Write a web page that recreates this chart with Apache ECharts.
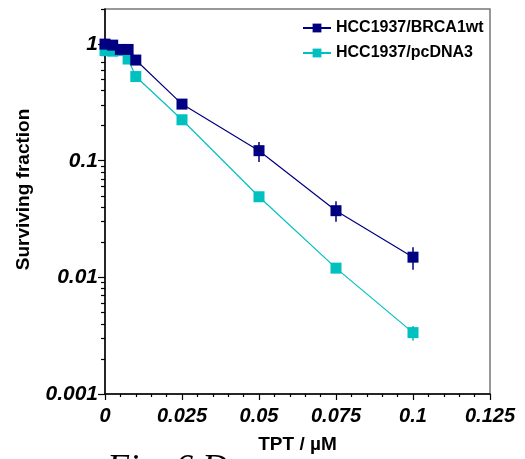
<!DOCTYPE html>
<html>
<head>
<meta charset="utf-8">
<script src="https://cdn.jsdelivr.net/npm/echarts@6/dist/echarts.min.js"></script>
<style>html,body{margin:0;padding:0;background:#fff}#c{width:525px;height:459px}</style>
</head>
<body>
<div id="c"></div>
<script>
// Dose (TPT, µM)
var doses = [0, 0.0025, 0.005, 0.0075, 0.01, 0.025, 0.05, 0.075, 0.1];
// Surviving fraction
var brca1wt = [1.0, 0.98, 0.90, 0.90, 0.73, 0.306, 0.122, 0.0373, 0.0149];
var pcdna3 = [0.88, 0.87, 0.88, 0.745, 0.527, 0.2245, 0.0491, 0.0120, 0.00336];
// Error bars [dose, low, high]
var brca1wtErr = [[0.05, 0.0975, 0.1445], [0.075, 0.030, 0.0449], [0.1, 0.01164, 0.0181]];
var pcdna3Err = [[0.1, 0.00286, 0.00383]];
// Axis ticks
var yMajorTicks = [0.001, 0.01, 0.1, 1];
var yMinorTicks = [0.002, 0.003, 0.004, 0.005, 0.006, 0.007, 0.008, 0.009,
                   0.02, 0.03, 0.04, 0.05, 0.06, 0.07, 0.08, 0.09,
                   0.2, 0.3, 0.4, 0.5, 0.6, 0.7, 0.8, 0.9, 2];
var names = ['HCC1937/BRCA1wt', 'HCC1937/pcDNA3'];
var colors = ['#000080', '#00c0c0'];

function pairs(xs, ys) { return xs.map(function (x, i) { return [x, ys[i]]; }); }

function errSeries(data, color) {
  return {
    type: 'custom',
    yAxisIndex: 0,
    z: 5,
    silent: true,
    data: data,
    encode: { x: 0, y: [1, 2] },
    renderItem: function (params, api) {
      var p1 = api.coord([api.value(0), api.value(1)]);
      var p2 = api.coord([api.value(0), api.value(2)]);
      return { type: 'line', shape: { x1: p1[0], y1: p1[1], x2: p2[0], y2: p2[1] },
               style: { stroke: color, lineWidth: 1.5 } };
    }
  };
}

var chart = echarts.init(document.getElementById('c'), null, { renderer: 'canvas' });
var labelFont = { fontFamily: '"Liberation Sans", Arial, sans-serif', fontWeight: 'bold', fontStyle: 'italic', fontSize: 20, color: '#000' };
chart.setOption({
  animation: false,
  backgroundColor: '#fff',
  grid: { left: 105, right: 35, top: 9, bottom: 64, show: true, borderColor: '#777', borderWidth: 1.5, backgroundColor: 'transparent' },
  legend: {
    data: names,
    orient: 'vertical',
    left: 297,
    top: 15,
    itemWidth: 28,
    itemHeight: 11,
    itemGap: 9,
    textStyle: { fontFamily: '"Liberation Sans", Arial, sans-serif', fontWeight: 'bold', fontSize: 16, color: '#000' }
  },
  xAxis: {
    type: 'value',
    min: 0, max: 0.125, interval: 0.025,
    name: 'TPT / µM',
    nameLocation: 'middle',
    nameGap: 41,
    nameTextStyle: { fontFamily: '"Liberation Sans", Arial, sans-serif', fontWeight: 'bold', fontSize: 19, color: '#000' },
    axisLine: { show: true, lineStyle: { color: '#000', width: 1.5 } },
    axisTick: { show: true, length: 6, lineStyle: { color: '#000', width: 1.2 } },
    minorTick: { show: true, splitNumber: 5, length: 3, lineStyle: { color: '#000', width: 1.2 } },
    splitLine: { show: false },
    axisLabel: Object.assign({ margin: 12 }, labelFont)
  },
  yAxis: [{
    type: 'log',
    logBase: 10,
    min: 0.001, max: 2,
    name: 'Surviving fraction',
    nameLocation: 'middle',
    nameRotate: 90,
    nameGap: 72,
    nameTextStyle: { fontFamily: '"Liberation Sans", Arial, sans-serif', fontWeight: 'bold', fontSize: 19, color: '#000', padding: [0, 0, 0, 24] },
    axisLine: { show: true, lineStyle: { color: '#000', width: 1.5 } },
    axisTick: { show: true, length: 7, customValues: yMajorTicks, lineStyle: { color: '#000', width: 1.2 } },
    splitLine: { show: false },
    axisLabel: Object.assign({ margin: 7, customValues: yMajorTicks, formatter: function (v) { return String(v); } }, labelFont, { fontSize: 21 })
  }, {
    type: 'log',
    logBase: 10,
    min: 0.001, max: 2,
    position: 'left',
    axisLine: { show: false },
    axisTick: { show: true, length: 4, customValues: yMinorTicks, lineStyle: { color: '#000', width: 1.2 } },
    axisLabel: { show: false },
    splitLine: { show: false }
  }],
  series: [
    {
      name: names[1], type: 'line', yAxisIndex: 0, z: 3,
      data: pairs(doses, pcdna3),
      symbol: 'rect', symbolSize: 11,
      itemStyle: { color: colors[1] },
      lineStyle: { color: colors[1], width: 1.2 }
    },
    errSeries(pcdna3Err, colors[1]),
    {
      name: names[0], type: 'line', yAxisIndex: 0, z: 6,
      data: pairs(doses, brca1wt),
      symbol: 'rect', symbolSize: 11,
      itemStyle: { color: colors[0] },
      lineStyle: { color: colors[0], width: 1.2 }
    },
    errSeries(brca1wtErr, colors[0])
  ],
  graphic: [{
    type: 'text', left: 107, top: 452,
    style: { text: 'Fig. 6 D', fontFamily: '"Liberation Serif", "Times New Roman", serif', fontStyle: 'italic', fontSize: 36, fill: '#000' }
  }]
});
</script>
</body>
</html>
